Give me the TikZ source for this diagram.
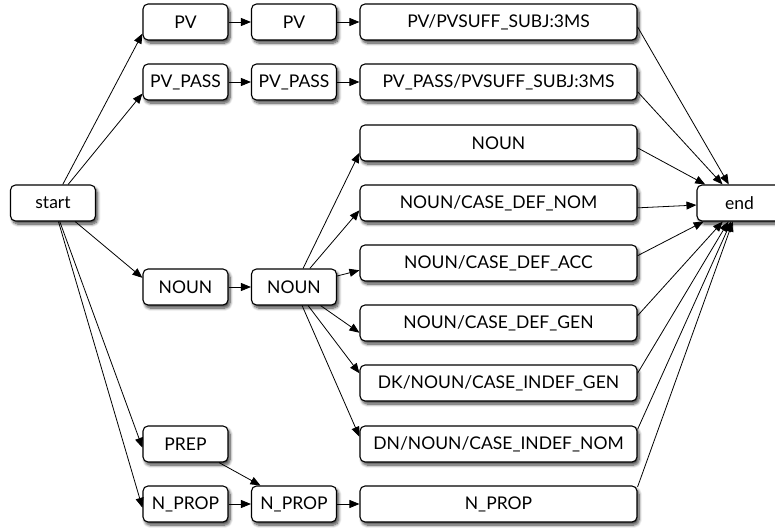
\documentclass[tikz,border=0pt]{standalone}
\usepackage{fontspec}
\setmainfont{Lato}
\usetikzlibrary{arrows.meta,shadows.blur}
\tikzset{
  box/.style={draw, line width=1.1pt, rounded corners=5pt, fill=white,
    minimum height=36pt, inner sep=0pt, font=\fontsize{17.5}{19}\selectfont,
    blur shadow={shadow xshift=2pt, shadow yshift=-3pt, shadow blur radius=3pt, shadow blur steps=8, shadow opacity=75}},
  small/.style={box, minimum width=85pt},
  wide/.style={box, minimum width=277pt},
  edge/.style={line width=0.8pt, -{Triangle[length=10pt,width=8pt]}}
}
\begin{document}
\begin{tikzpicture}[x=1pt,y=-1pt]
\useasboundingbox (0,0) rectangle (775,527);
\node[small] (start) at (53,203) {start};
\node[small] (finish) at (739.5,203) {end};
\node[small] (pv_1) at (185.5,22) {PV};
\node[small] (pv_2) at (294,22) {PV};
\node[wide] (pv_3) at (498.5,22) {PV/PVSUFF\_SUBJ:3MS};
\node[small] (pp_1) at (185.5,82) {PV\_PASS};
\node[small] (pp_2) at (294,82) {PV\_PASS};
\node[wide] (pp_3) at (498.5,82) {PV\_PASS/PVSUFF\_SUBJ:3MS};
\node[small] (nn_1) at (185.5,287) {NOUN};
\node[small] (nn_2) at (294,287) {NOUN};
\node[wide] (n_1) at (498.5,143) {NOUN};
\node[wide] (n_2) at (498.5,203) {NOUN/CASE\_DEF\_NOM};
\node[wide] (n_3) at (498.5,263) {NOUN/CASE\_DEF\_ACC};
\node[wide] (n_4) at (498.5,323) {NOUN/CASE\_DEF\_GEN};
\node[wide] (n_5) at (498.5,383) {DK/NOUN/CASE\_INDEF\_GEN};
\node[wide] (n_6) at (498.5,444) {DN/NOUN/CASE\_INDEF\_NOM};
\node[small] (prep) at (185.5,444) {PREP};
\node[small] (np_1) at (185.5,504) {N\_PROP};
\node[small] (np_2) at (294,504) {N\_PROP};
\node[wide] (np_3) at (498.5,504) {N\_PROP};
% from start
\draw[edge] (start) -- (pv_1.195);
\draw[edge] (start) -- (pp_1.195);
\draw[edge] (start) -- (nn_1.168);
\draw[edge] (start) -- (prep.185);
\draw[edge] (start) -- (np_1.185);
% chains
\draw[edge] (pv_1) -- (pv_2);
\draw[edge] (pv_2) -- (pv_3);
\draw[edge] (pp_1) -- (pp_2);
\draw[edge] (pp_2) -- (pp_3);
\draw[edge] (nn_1) -- (nn_2);
\draw[edge] (prep) -- (np_2);
\draw[edge] (np_1) -- (np_2);
\draw[edge] (np_2) -- (np_3);
% noun split
\draw[edge] (nn_2) -- (n_1.184);
\draw[edge] (nn_2) -- (n_2.183);
\draw[edge] (nn_2) -- (n_3.183);
\draw[edge] (nn_2) -- (n_4.184);
\draw[edge] (nn_2) -- (n_5.176);
\draw[edge] (nn_2) -- (n_6.177);
% to end
\draw[edge] (pv_3.-2) -- (finish);
\draw[edge] (pp_3.-4) -- (finish);
\draw[edge] (n_1.-2) -- (finish);
\draw[edge] (n_2.-2) -- (finish);
\draw[edge] (n_3.3) -- (finish);
\draw[edge] (n_4.3) -- (finish);
\draw[edge] (n_5.4) -- (finish);
\draw[edge] (n_6.6) -- (finish);
\draw[edge] (np_3.7) -- (finish);
\end{tikzpicture}
\end{document}
